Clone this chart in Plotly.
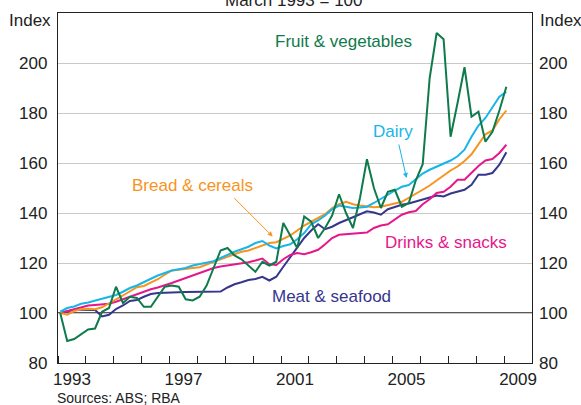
import plotly.graph_objects as go

# Quarterly, March 1993 to March 2009 (index, March 1993 = 100)
quarters = [f"{y}Q{q}" for y in range(1993, 2010) for q in range(1, 5)][:65]

fruit_veg = [100, 88.8, 89.6, 91.5, 93.4, 93.8, 100.5, 102, 110.5, 104, 106.5, 106, 102.5,
             102.5, 106.5, 110.5, 111, 110.5, 105.5, 105, 106.5, 111, 118, 125, 126, 123,
             121.5, 119, 116.5, 120.5, 119, 120.5, 136, 131, 126, 138.6, 136.5, 130, 134,
             139, 147.5, 140, 134, 146, 161.5, 150, 142, 148.5, 149.3, 142.5, 144, 153,
             159.5, 194, 212, 209.5, 170.5, 184, 198.3, 178.5, 180.5, 168.5, 172.5, 181, 190.5]

dairy = [100.5, 102, 102.6, 103.7, 104.2, 105, 105.8, 106.6, 107.2, 108.5, 110, 111, 112.5,
         113.7, 115, 116, 117, 117.5, 118, 119, 119.5, 120, 120.7, 122, 123.3, 124.5, 125.5,
         126.5, 128, 128.8, 127, 125.8, 126.8, 127.5, 129.5, 132, 135.5, 137, 139, 141.5,
         143, 142.5, 142, 142.2, 142.5, 144, 145.5, 147.3, 149, 150.5, 151.2, 153.5, 155.8,
         157.3, 158.5, 160, 161, 162.7, 165.3, 170.5, 175, 178, 182, 186.5, 188.5]

bread_cereals = [100, 99.3, 100.8, 101.5, 101.7, 101.5, 102.3, 104, 105.5, 107, 108.6, 110.3,
                 110.8, 112, 113.5, 115.3, 117, 117.3, 117.8, 118, 118.3, 119.5, 120.5, 121.5,
                 122.5, 123.5, 124.5, 125, 126, 127, 128, 128.3, 129.5, 131, 133, 135, 136.5,
                 138, 139.5, 142, 143.5, 144.5, 143.5, 143, 142.5, 142.3, 142.5, 143, 143.8,
                 144.5, 146, 147.5, 149.3, 151, 153, 155, 157, 158.6, 160.8, 163.5, 167.5,
                 171.5, 173, 177.5, 181]

drinks_snacks = [100, 100.8, 101.6, 102.3, 103, 103.2, 103.3, 103.7, 104.5, 105.5, 106.6, 107.5,
                 108.6, 109.5, 110.2, 111, 112, 113, 114, 115, 116, 117, 118, 118.6, 119, 119.3,
                 120, 120.3, 121, 121.8, 119.5, 119.2, 121.5, 123.2, 124, 123.5, 124.3, 125.3,
                 127.5, 130, 131.3, 131.5, 131.5, 131.8, 132.2, 134, 135, 135.5, 137.5, 139.3,
                 140.3, 140.8, 143.5, 145.5, 148, 148.5, 150.5, 153.3, 153.3, 156, 158.8, 161,
                 161.6, 164, 167.3]

meat_seafood = [100, 100.8, 101.3, 101.3, 101.3, 101.2, 98.6, 99.3, 101.6, 103, 104.8, 105.2,
                106.5, 107.6, 108, 108.2, 108.2, 108.3, 108.4, 108.5, 108.5, 108.5, 108.5, 108.6,
                110.2, 111.5, 112.3, 113.2, 113.6, 114.5, 113, 114.5, 118.5, 122.5, 126.5, 130,
                133, 135.5, 133.5, 134.5, 136, 137, 138.3, 139.5, 140.7, 140.2, 139.3, 141.5,
                142.5, 143.3, 143.8, 144.5, 145.5, 146.2, 147, 146.6, 147.8, 148.4, 149.3, 151.3,
                155.3, 155.3, 156, 159.3, 164.3]

year_labels = ["1993", "1997", "2001", "2005", "2009"]
y_ticks = [80, 100, 120, 140, 160, 180, 200]

series = [
    ("Fruit & vegetables", fruit_veg, "#0f7a4c"),
    ("Dairy", dairy, "#19b5e8"),
    ("Bread & cereals", bread_cereals, "#f7941d"),
    ("Drinks & snacks", drinks_snacks, "#e5178b"),
    ("Meat & seafood", meat_seafood, "#35368c"),
]

def qpos(label):
    y, q = label.split("Q")
    return int(y) + 0.08 + 0.25 * (int(q) - 1)

xs = [qpos(q) for q in quarters]

FONT = "Liberation Sans, Arial, sans-serif"
fig = go.Figure()
# draw order: back to front
for name, vals, col in [series[4], series[3], series[2], series[1], series[0]]:
    fig.add_trace(go.Scatter(x=xs, y=vals, mode="lines", name=name,
                             line=dict(color=col, width=2), hoverinfo="skip"))

L, R, T, B = 57.7, 49, 12.7, 42.3
W, H = 581, 405
pw, ph = W - L - R, H - T - B

def px(x):
    return (x - L) / pw

def py(y):
    return (H - B - y) / ph

fig.update_layout(
    width=W, height=H,
    margin=dict(l=L, r=R, t=T, b=B, pad=0),
    paper_bgcolor="white", plot_bgcolor="white",
    showlegend=False,
    font=dict(family=FONT, size=17, color="#222222"),
    xaxis=dict(range=[1993, 2010], tickvals=[int(v) + 0.5 for v in year_labels],
               ticktext=year_labels, ticks="", showgrid=False, zeroline=False,
               showline=True, linecolor="#222222", linewidth=1.3, mirror=True,
               tickfont=dict(size=17), ticklabelstandoff=0,
               minor=dict(ticks="inside", dtick=1, tick0=1993, ticklen=7,
                          tickcolor="#222222", tickwidth=1, showgrid=False)),
    yaxis=dict(range=[80, 220], tickvals=y_ticks, ticks="", showgrid=True,
               gridcolor="#c9c9c9", gridwidth=1.2, zeroline=False,
               showline=True, linecolor="#222222", linewidth=1.3, mirror=True,
               tickfont=dict(size=17), ticklabelstandoff=6),
    yaxis2=dict(range=[80, 220], tickvals=y_ticks, ticks="", overlaying="y", side="right",
                showgrid=False, zeroline=False, showline=False,
                tickfont=dict(size=17), ticklabelstandoff=6),
)
fig.add_trace(go.Scatter(x=[xs[0]], y=[None], yaxis="y2", mode="lines",
                         hoverinfo="skip", showlegend=False))

fig.add_shape(type="line", xref="paper", yref="y", x0=0, x1=1, y0=100, y1=100,
              line=dict(color="#222222", width=1.3), layer="between")

ann = [
    ("Fruit & vegetables", 343, 41, series[0][2]),
    ("Dairy", 393, 131, series[1][2]),
    ("Bread & cereals", 192.5, 185, series[2][2]),
    ("Drinks & snacks", 445.5, 242, series[3][2]),
    ("Meat & seafood", 331, 296, series[4][2]),
]
for text, x, y, col in ann:
    fig.add_annotation(text=text, x=px(x), y=py(y), xref="paper", yref="paper",
                       showarrow=False, font=dict(size=17, color=col),
                       xanchor="center", yanchor="middle")

# arrows
fig.add_annotation(x=2005.5, y=154, xref="x", yref="y", ax=-8, ay=-35, text="",
                   showarrow=True, arrowhead=2, arrowsize=1, arrowwidth=1,
                   arrowcolor=series[1][2])
fig.add_annotation(x=2000.7, y=130.6, xref="x", yref="y", ax=-40, ay=-40, text="",
                   showarrow=True, arrowhead=2, arrowsize=1, arrowwidth=1,
                   arrowcolor=series[2][2])

fig.add_annotation(text="Index", x=px(52.7), y=py(20.5), xref="paper", yref="paper",
                   showarrow=False, xanchor="right", yanchor="middle", font=dict(size=17))
fig.add_annotation(text="Index", x=px(537.7), y=py(20.5), xref="paper", yref="paper",
                   showarrow=False, xanchor="left", yanchor="middle", font=dict(size=17))
fig.add_annotation(text="March 1993 = 100", x=px(294), y=py(0), xref="paper", yref="paper",
                   showarrow=False, xanchor="center", yanchor="middle", font=dict(size=17))
fig.add_annotation(text="Sources: ABS; RBA", x=px(55), y=py(397.5), xref="paper", yref="paper",
                   showarrow=False, xanchor="left", yanchor="middle", font=dict(size=14))

fig.write_html("out.html", config={"displayModeBar": False},
               post_script="document.body.style.margin='0';document.body.style.overflow='hidden';")
